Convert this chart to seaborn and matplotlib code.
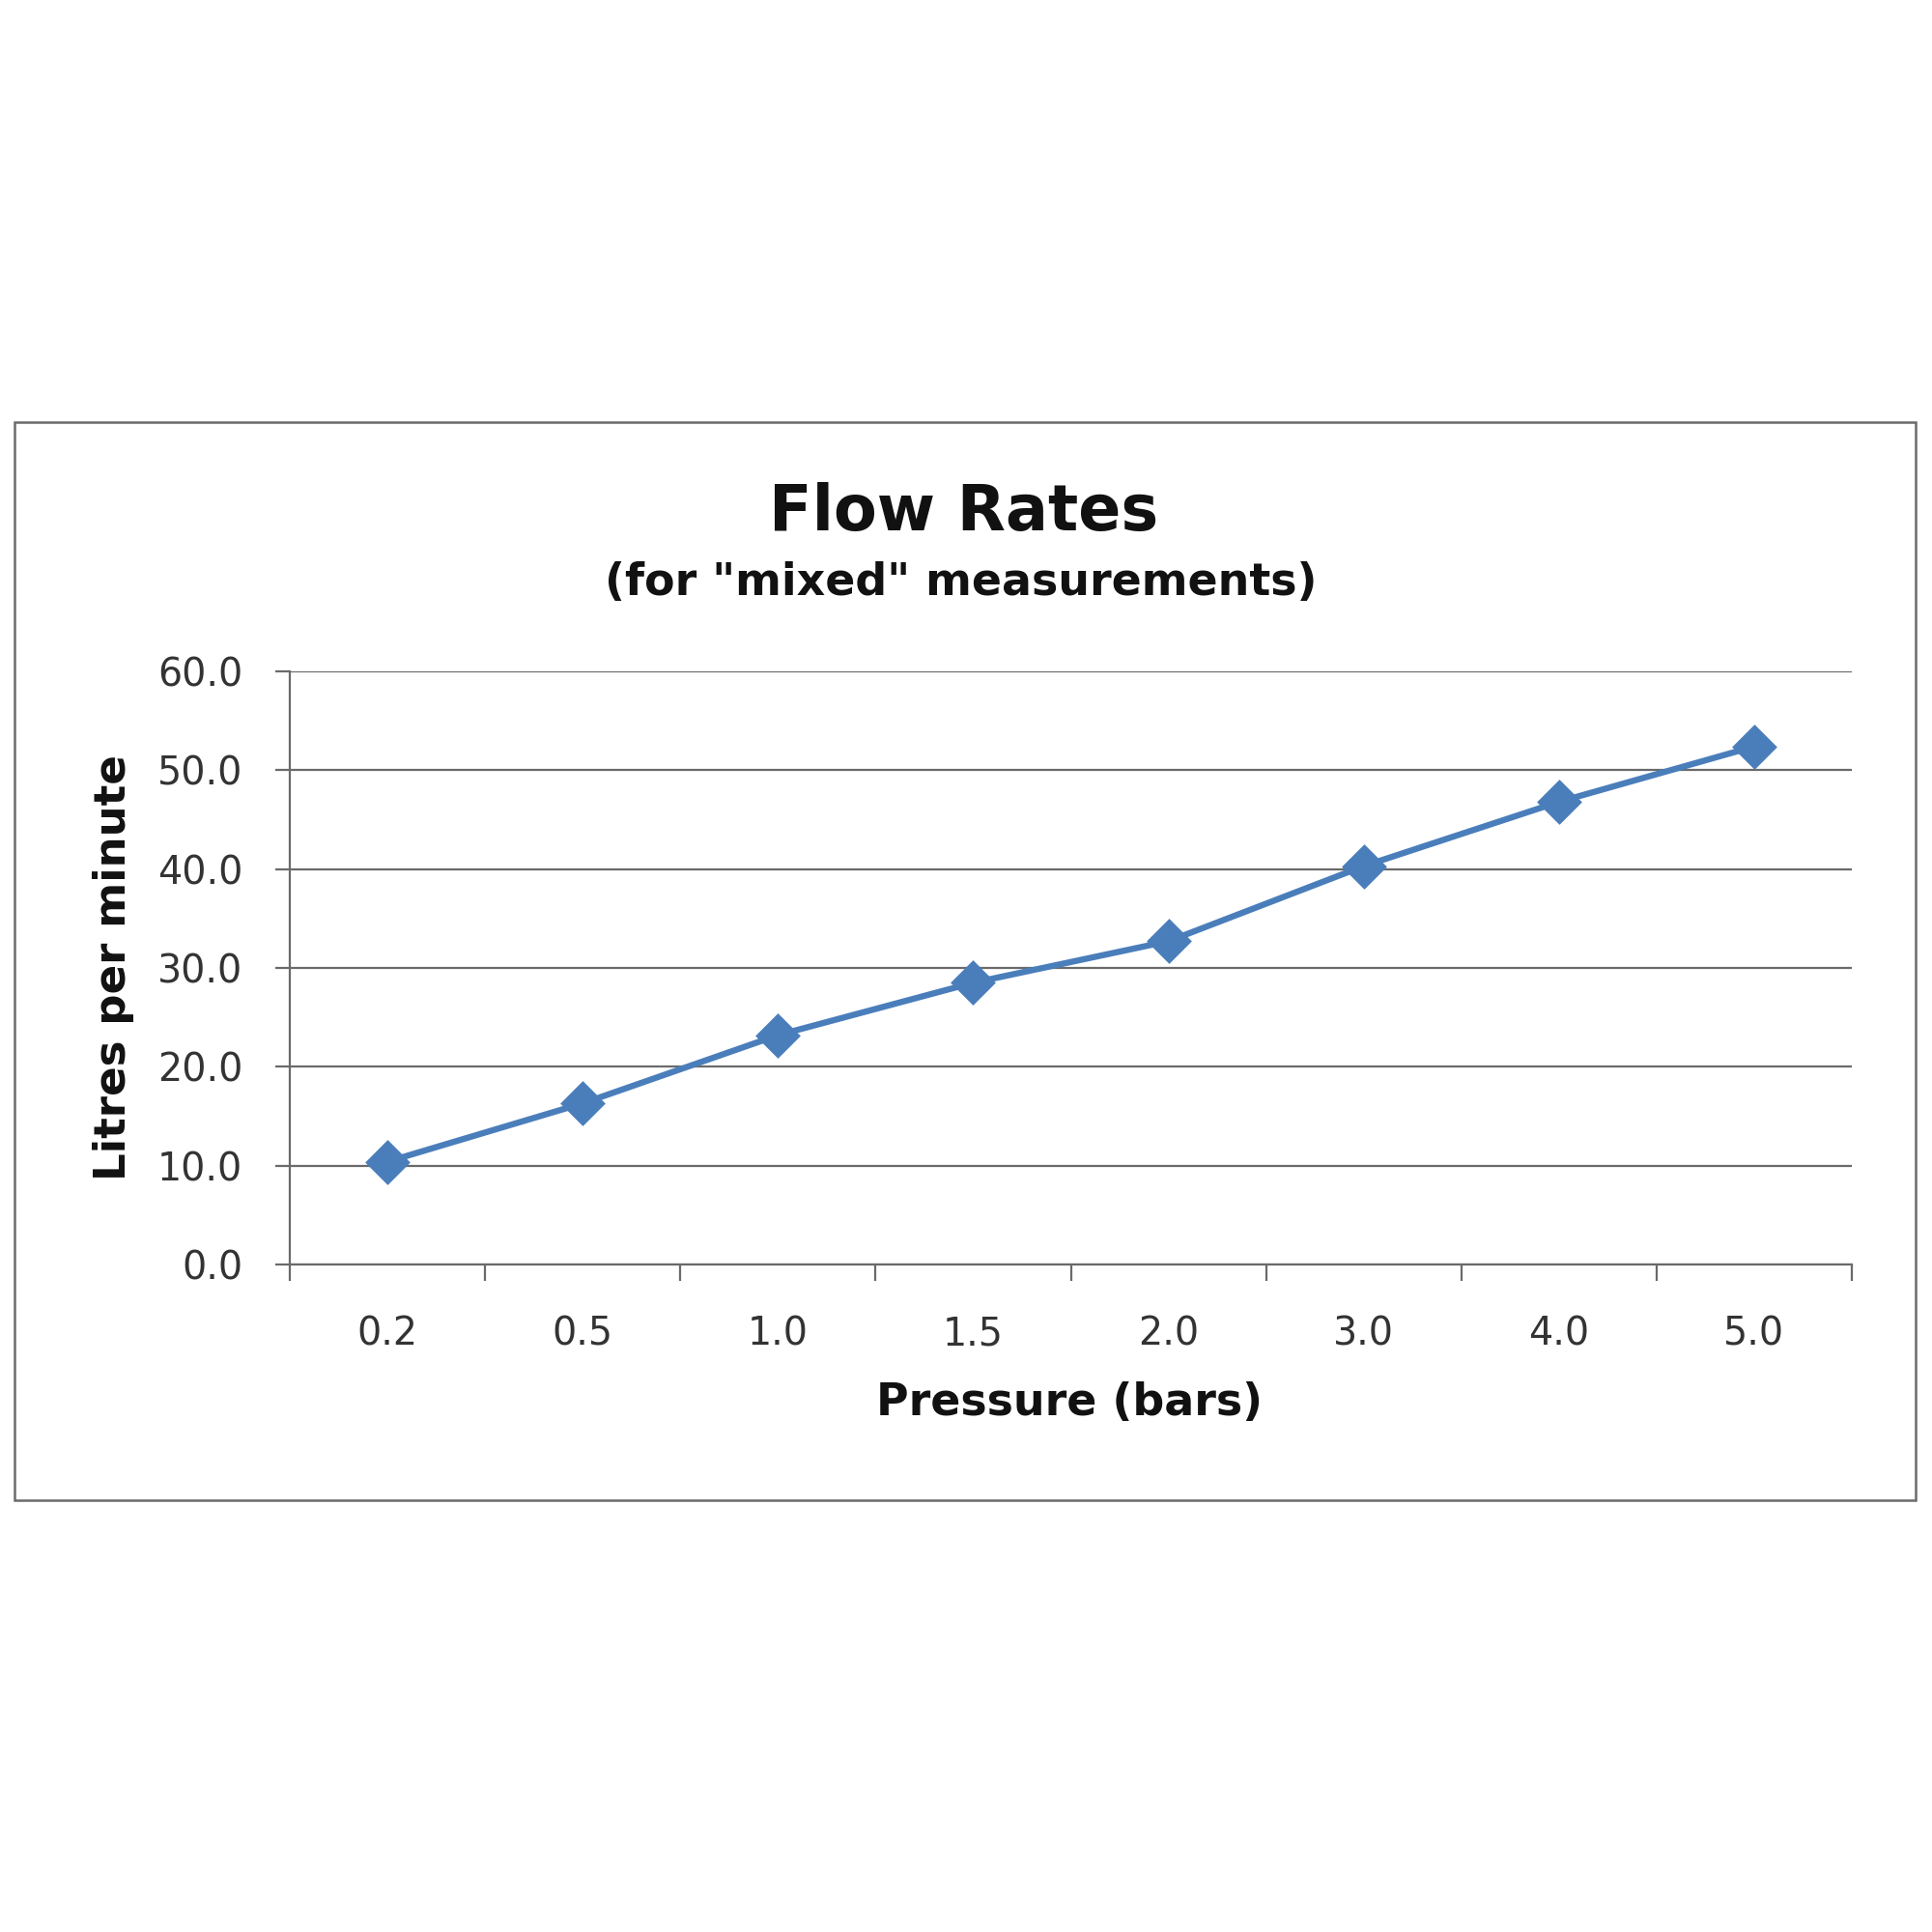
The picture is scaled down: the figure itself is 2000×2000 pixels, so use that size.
import matplotlib
matplotlib.use("Agg")
import matplotlib.pyplot as plt
import seaborn as sns
import pandas as pd
from matplotlib.patches import Rectangle

# ---- data ----
pressure_labels = ["0.2", "0.5", "1.0", "1.5", "2.0", "3.0", "4.0", "5.0"]
flow_rates = [10.4, 16.3, 23.2, 28.5, 32.7, 40.3, 46.8, 52.4]
y_ticks = [0, 10, 20, 30, 40, 50, 60]
y_tick_labels = [f"{v:.1f}" for v in y_ticks]
title = "Flow Rates"
subtitle = '(for "mixed" measurements)'
x_label = "Pressure (bars)"
y_label = "Litres per minute"

sns.set_theme(style="white")
plt.rcParams['font.family'] = ['DejaVu Sans']

fig = plt.figure(figsize=(20, 20), dpi=100)
fig.patch.set_facecolor("white")

# outer chart frame
fig.patches.append(Rectangle((0.0075, 0.2235), 0.984, 0.558, transform=fig.transFigure,
                             fill=False, edgecolor="#6a6a6a", linewidth=1.8))

ax = fig.add_axes([0.15, 0.3455, 0.8085, 0.307])
ax.set_facecolor("white")

df = pd.DataFrame({"Pressure": pressure_labels, "Flow": flow_rates})
sns.pointplot(data=df, x="Pressure", y="Flow", order=pressure_labels, color="#4a7ebb",
              markers="D", markersize=20, linewidth=4.6, errorbar=None, ax=ax)

ax.set_xlim(-0.5, len(pressure_labels) - 0.5)
ax.set_ylim(0, 60)
ax.set_yticks(y_ticks)
ax.set_yticklabels(y_tick_labels)
ax.yaxis.grid(True, color="#6a6a6a", linewidth=1.6)
ax.xaxis.grid(False)
ax.set_axisbelow(True)

for s in ["top", "right"]:
    ax.spines[s].set_visible(False)
for s in ["left", "bottom"]:
    ax.spines[s].set_color("#6a6a6a")
    ax.spines[s].set_linewidth(1.6)

ax.set_xticks(range(len(pressure_labels)))
ax.set_xticklabels(pressure_labels)
ax.set_xticks([i - 0.5 for i in range(len(pressure_labels) + 1)], minor=True)
ax.tick_params(axis="x", which="major", bottom=True, length=0, pad=38,
               labelsize=28.5, labelcolor="#333333")
ax.tick_params(axis="x", which="minor", bottom=True, length=12, width=1.6,
               color="#6a6a6a", direction="out")
ax.tick_params(axis="y", which="major", left=True, length=11, width=1.6,
               color="#6a6a6a", pad=24, labelsize=28.5, labelcolor="#333333")

ax.set_xlabel(x_label, fontsize=33, fontweight="bold", color="#111111")
ax.set_ylabel(y_label, fontsize=32.5, fontweight="bold", color="#111111")
ax.xaxis.set_label_coords(0.499, -0.233)
ax.xaxis.label.set_va("center")
ax.yaxis.set_label_coords(-0.113, 0.50)
ax.yaxis.label.set_va("center")

fig.text(0.4987, 0.7345, title, ha="center", va="center", fontsize=47,
         fontweight="bold", color="#111111")
fig.text(0.4975, 0.6985, subtitle, ha="center", va="center", fontsize=33,
         fontweight="bold", color="#111111")

fig.savefig("out.png", dpi=100, facecolor="white")
